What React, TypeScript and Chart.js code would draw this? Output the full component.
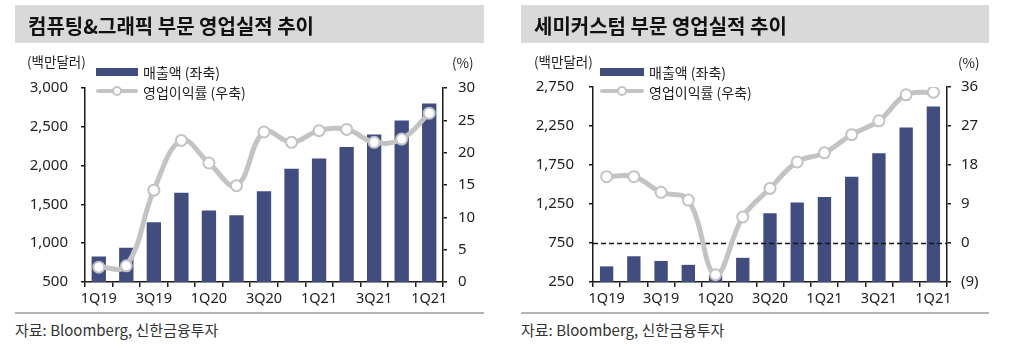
import React, { useEffect, useRef } from "react";
import { Chart, registerables } from "chart.js";

Chart.register(...registerables);

// ---- data ----
const categories = ["1Q19", "2Q19", "3Q19", "4Q19", "1Q20", "2Q20", "3Q20", "4Q20", "1Q21", "2Q21", "3Q21", "4Q21", "1Q21"];
const xTickLabels = ["1Q19", "", "3Q19", "", "1Q20", "", "3Q20", "", "1Q21", "", "3Q21", "", "1Q21"];

const computeRevenue = [830, 940, 1270, 1650, 1420, 1360, 1670, 1960, 2090, 2240, 2400, 2580, 2800];
const computeMargin = [2.3, 2.5, 14.2, 21.9, 18.4, 14.9, 23.2, 21.6, 23.4, 23.6, 21.6, 22.1, 26.1];

const semiRevenue = [450, 580, 520, 470, 340, 560, 1130, 1270, 1340, 1600, 1900, 2230, 2500];
const semiMargin = [15.3, 15.3, 11.7, 9.9, -7.3, 6.0, 12.6, 18.7, 20.8, 25.0, 28.2, 34.2, 34.8];

const computeLeftAxis = [500, 3000, 500];
const computeRightAxis = [0, 30, 5];
const semiLeftAxis = [250, 2750, 500];
const semiRightAxis = [-9, 36, 9];

const titles = ["컴퓨팅&그래픽 부문 영업실적 추이", "세미커스텀 부문 영업실적 추이"];
const legendLabels = ["매출액 (좌축)", "영업이익률 (우축)"];
const unitLabels = ["(백만달러)", "(%)"];
const sourceText = "자료: Bloomberg, 신한금융투자";

// ---- styles ----
const NAVY = "#414c7f";
const GRAY = "#c3c3c3";
const AXIS = "#1a1a1a";
const LATIN = '"Noto Sans", "Noto Sans CJK KR", sans-serif';
const KFONT = '"Noto Sans CJK KR", "Noto Sans", sans-serif';

const fmtThousands = (v: number) => Math.round(v).toLocaleString("en-US");
const fmtParen = (v: number) => (v < 0 ? `(${Math.abs(v)})` : `${v}`);

type ChartProps = {
  left: number;
  revenue: number[];
  margin: number[];
  leftAxis: number[];
  rightAxis: number[];
  yWidth: number;
  y1Width: number;
  areaTop: number;
  areaBottom: number;
  barPct: number;
  leftPad: number;
  rightPad: number;
  zeroLine: boolean;
};

function makeConfig(p: ChartProps): any {
  const zeroLinePlugin = {
    id: "zeroLine",
    afterDatasetDraw(chart: any, args: any) {
      if (!p.zeroLine || args.index !== 0) return;
      const y1 = chart.scales.y1;
      const area = chart.chartArea;
      const yy = Math.round(y1.getPixelForValue(0)) + 0.5;
      const ctx = chart.ctx;
      ctx.save();
      ctx.beginPath();
      ctx.setLineDash([5, 3]);
      ctx.lineWidth = 1.5;
      ctx.strokeStyle = "#111";
      ctx.moveTo(area.left, yy);
      ctx.lineTo(area.right, yy);
      ctx.stroke();
      ctx.restore();
    },
  };
  const tickFont = { family: LATIN, size: 15 };
  return {
    type: "bar",
    data: {
      labels: categories,
      datasets: [
        {
          type: "bar",
          label: legendLabels[0],
          data: p.revenue,
          backgroundColor: NAVY,
          yAxisID: "y",
          barPercentage: p.barPct,
          categoryPercentage: 1,
          order: 2,
        },
        {
          type: "line",
          label: legendLabels[1],
          data: p.margin,
          yAxisID: "y1",
          borderColor: GRAY,
          borderWidth: 5,
          tension: 0.4,
          pointRadius: 5.5,
          pointBackgroundColor: "#ffffff",
          pointBorderColor: GRAY,
          pointBorderWidth: 2,
          order: 1,
        },
      ],
    },
    options: {
      responsive: false,
      maintainAspectRatio: false,
      animation: false,
      layout: { padding: { top: 0, left: 0, right: 0, bottom: 0 } },
      plugins: { legend: { display: false }, tooltip: { enabled: false } },
      scales: {
        x: {
          grid: { offset: true, drawOnChartArea: false, drawTicks: true, tickLength: 5, color: AXIS, lineWidth: 1.5 },
          border: { display: true, color: AXIS, width: 1.5 },
          ticks: {
            autoSkip: false,
            maxRotation: 0,
            padding: 3,
            color: "#222",
            font: { family: LATIN, size: 14.5 },
            callback: (_v: any, i: number) => xTickLabels[i],
          },
          afterFit: (s: any) => {
            s.height = 30;
          },
        },
        y: {
          position: "left",
          min: p.leftAxis[0],
          max: p.leftAxis[1],
          grid: { drawOnChartArea: false, drawTicks: true, tickLength: 4, color: AXIS, lineWidth: 1.5 },
          border: { display: true, color: AXIS, width: 1.5 },
          ticks: {
            stepSize: p.leftAxis[2],
            padding: p.leftPad,
            color: "#222",
            font: tickFont,
            callback: (v: any) => fmtThousands(Number(v)),
          },
          afterFit: (s: any) => {
            s.width = p.yWidth;
          },
        },
        y1: {
          position: "right",
          min: p.rightAxis[0],
          max: p.rightAxis[1],
          grid: { drawOnChartArea: false, drawTicks: true, tickLength: 4, color: AXIS, lineWidth: 1.5 },
          border: { display: true, color: AXIS, width: 1.5 },
          ticks: {
            stepSize: p.rightAxis[2],
            padding: p.rightPad,
            color: "#222",
            font: tickFont,
            callback: (v: any) => fmtParen(Number(v)),
          },
          afterFit: (s: any) => {
            s.width = p.y1Width;
          },
        },
      },
    },
    plugins: [zeroLinePlugin],
  };
}

function ComboChart(p: ChartProps) {
  const ref = useRef<HTMLCanvasElement>(null);
  useEffect(() => {
    const canvas = ref.current as HTMLCanvasElement;
    let chart = new Chart(canvas, makeConfig(p));
    // fit the plot area to the wanted page position
    const wantH = p.areaBottom - p.areaTop;
    const gotH = chart.chartArea.bottom - chart.chartArea.top;
    if (Math.abs(wantH - gotH) > 0.5) {
      const newH = Math.round(canvas.height + (wantH - gotH));
      chart.destroy();
      canvas.width = 512;
      canvas.height = newH;
      canvas.style.width = "512px";
      canvas.style.height = newH + "px";
      chart = new Chart(canvas, makeConfig(p));
    }
    canvas.style.top = Math.round(p.areaTop - chart.chartArea.top) + "px";
    return () => chart.destroy();
  }, []);
  return (
    <canvas
      ref={ref}
      width={512}
      height={240}
      style={{ position: "absolute", left: p.left, top: 70, width: 512, height: 240 }}
    />
  );
}

function Txt(props: { x: number; cy: number; size: number; weight?: number; color?: string; children: any }) {
  const lh = Math.round(props.size * 1.5);
  return (
    <div
      style={{
        position: "absolute",
        left: props.x,
        top: props.cy - lh / 2,
        fontSize: props.size,
        lineHeight: `${lh}px`,
        fontFamily: KFONT,
        fontWeight: props.weight || 400,
        color: props.color || "#222",
        whiteSpace: "nowrap",
      }}
    >
      {props.children}
    </div>
  );
}

type PanelDecor = {
  boxLeft: number;
  boxWidth: number;
  titleX: number;
  unitLX: number;
  unitRX: number;
  legendX: number;
  legendTextX: number;
  title: string;
};

function Decor(d: PanelDecor) {
  const lw = d.legendTextX - d.legendX - 5;
  return (
    <>
      <div style={{ position: "absolute", left: d.boxLeft, top: 5, width: d.boxWidth, height: 38, background: "#d9d9d9" }} />
      <Txt x={d.titleX} cy={26} size={20} weight={700} color="#111">
        {d.title}
      </Txt>
      <Txt x={d.unitLX} cy={61} size={13.5}>
        {unitLabels[0]}
      </Txt>
      <Txt x={d.unitRX} cy={62} size={13.5}>
        {unitLabels[1]}
      </Txt>
      <div style={{ position: "absolute", left: d.legendX, top: 68, width: lw, height: 8, background: NAVY }} />
      <Txt x={d.legendTextX} cy={72} size={14}>
        {legendLabels[0]}
      </Txt>
      <div style={{ position: "absolute", left: d.legendX, top: 89, width: lw, height: 4, borderRadius: 2, background: GRAY }} />
      <div
        style={{
          position: "absolute",
          left: d.legendX + lw / 2 - 5,
          top: 86,
          width: 6,
          height: 6,
          borderRadius: 6,
          background: "#fff",
          border: `2px solid ${GRAY}`,
        }}
      />
      <Txt x={d.legendTextX} cy={92} size={14}>
        {legendLabels[1]}
      </Txt>
      <div style={{ position: "absolute", left: d.boxLeft, top: 312, width: d.boxWidth, height: 2, background: "#b5b5b5" }} />
      <Txt x={d.boxLeft} cy={329} size={15} color="#333">
        {sourceText}
      </Txt>
    </>
  );
}

export default function App() {
  return (
    <div style={{ position: "fixed", left: 0, top: 0, width: 1024, height: 348, background: "#fff", overflow: "hidden" }}>
      <ComboChart
        left={0}
        revenue={computeRevenue}
        margin={computeMargin}
        leftAxis={computeLeftAxis}
        rightAxis={computeRightAxis}
        yWidth={85}
        y1Width={69}
        areaTop={88}
        areaBottom={282}
        barPct={0.52}
        leftPad={13}
        rightPad={11}
        zeroLine={false}
      />
      <ComboChart
        left={512}
        revenue={semiRevenue}
        margin={semiMargin}
        leftAxis={semiLeftAxis}
        rightAxis={semiRightAxis}
        yWidth={81}
        y1Width={77}
        areaTop={87}
        areaBottom={282}
        barPct={0.49}
        leftPad={15}
        rightPad={10}
        zeroLine={true}
      />
      <Decor boxLeft={15} boxWidth={469} titleX={28} unitLX={27} unitRX={452} legendX={96} legendTextX={143} title={titles[0]} />
      <Decor boxLeft={521} boxWidth={468} titleX={534} unitLX={534} unitRX={958} legendX={600} legendTextX={649} title={titles[1]} />
    </div>
  );
}
